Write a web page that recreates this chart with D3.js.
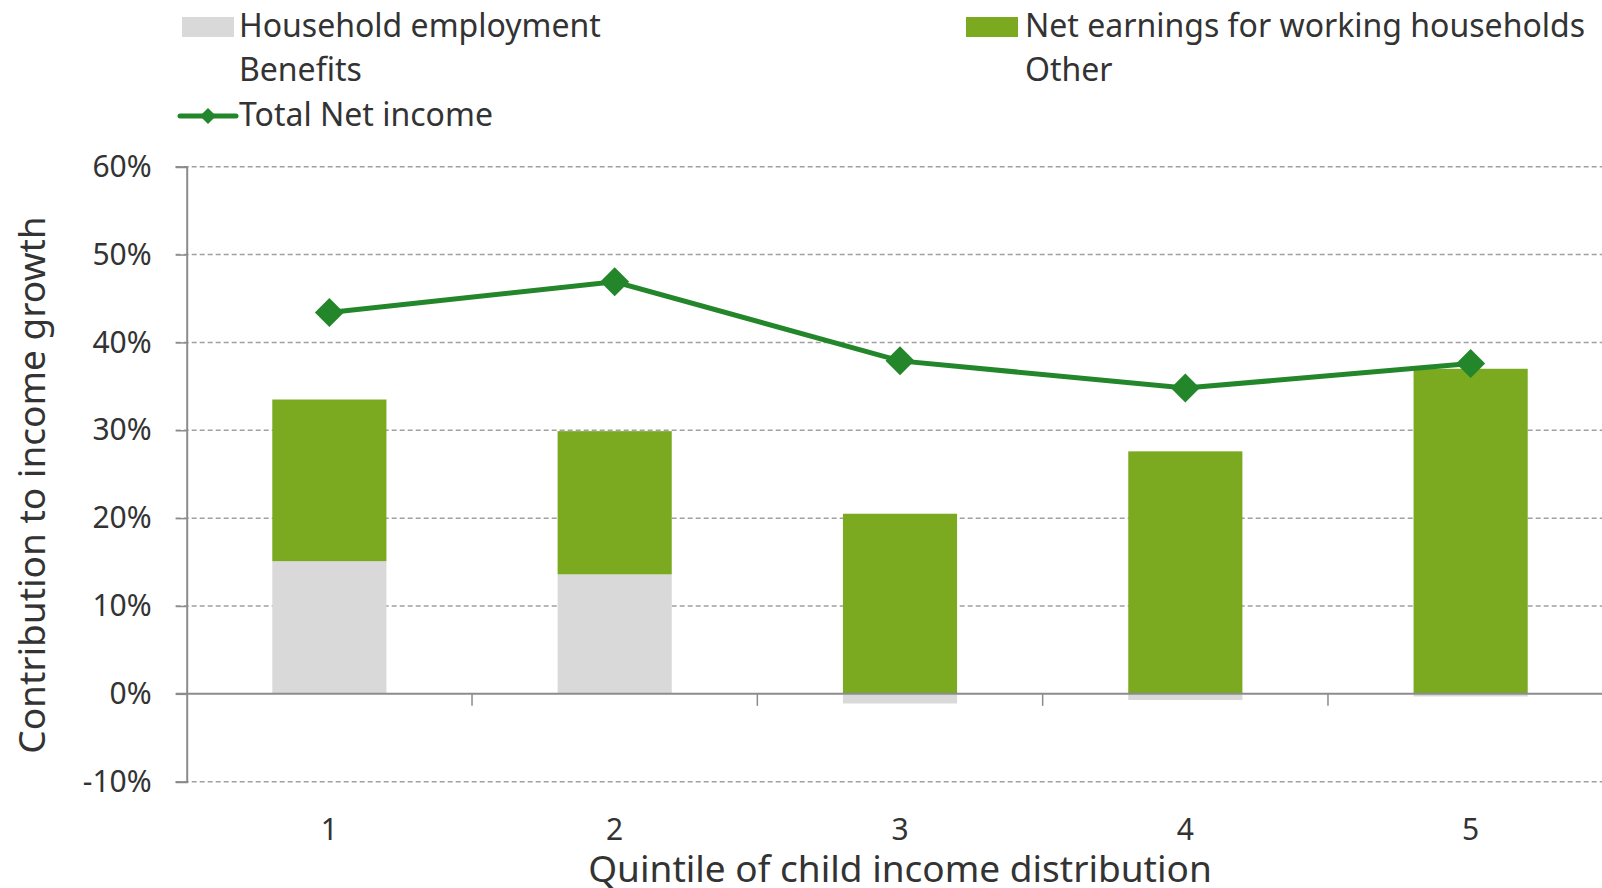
<!DOCTYPE html>
<html>
<head>
<meta charset="utf-8">
<script src="https://cdn.jsdelivr.net/npm/d3@7"></script>
<style>
  html, body { margin: 0; padding: 0; background: #fff; }
  svg text { font-family: "Noto Sans", "Open Sans", sans-serif; fill: #333; }
</style>
</head>
<body>
<svg id="chart" width="1602" height="888"></svg>
<script>
const quintiles = ["1", "2", "3", "4", "5"];
const householdEmployment = [15.1, 13.6, -1.1, -0.7, -0.3];
const netEarnings = [18.4, 16.3, 20.5, 27.6, 37.0];
const totalNetIncome = [43.4, 46.9, 37.9, 34.8, 37.6];
const yTicks = [-10, 0, 10, 20, 30, 40, 50, 60];

(function () {
  const svg = d3.select("#chart");
  const margin = { left: 186.7, right: -11.3, top: 166.7, bottom: 106.3 };
  const width = 1602;
  const height = 888;

  const x = d3
    .scaleBand()
    .domain(quintiles)
    .range([margin.left, width - margin.right])
    .paddingInner(0.6)
    .paddingOuter(0.3);

  const y = d3
    .scaleLinear()
    .domain([-10, 60])
    .range([height - margin.bottom, margin.top]);

  // gridlines
  svg
    .append("g")
    .selectAll(null)
    .data(yTicks.filter((d) => d !== 0))
    .enter()
    .append("line")
    .attr("x1", margin.left - 11)
    .attr("x2", width)
    .attr("y1", (d) => y(d))
    .attr("y2", (d) => y(d))
    .attr("stroke", "#a0a0a0")
    .attr("stroke-width", 1.5)
    .attr("stroke-dasharray", "5,3");

  // stacked bars
  const rows = quintiles.map((q, i) => ({
    q: q,
    household: householdEmployment[i],
    earnings: netEarnings[i],
  }));
  const stack = d3
    .stack()
    .keys(["household", "earnings"])
    .offset(d3.stackOffsetDiverging);
  const colors = { household: "#d9d9d9", earnings: "#7ba91f" };

  svg
    .append("g")
    .selectAll(null)
    .data(stack(rows))
    .enter()
    .append("g")
    .attr("fill", (s) => colors[s.key])
    .selectAll("rect")
    .data((s) => s)
    .enter()
    .append("rect")
    .attr("x", (d) => x(d.data.q))
    .attr("width", x.bandwidth())
    .attr("y", (d) => y(Math.max(d[0], d[1])))
    .attr("height", (d) => Math.abs(y(d[0]) - y(d[1])));

  // y axis
  const yAxis = svg
    .append("g")
    .attr("transform", `translate(${margin.left},0)`)
    .call(
      d3
        .axisLeft(y)
        .tickValues(yTicks)
        .tickFormat((d) => d + "%")
        .tickSize(11)
        .tickPadding(24)
    );
  yAxis.select(".domain").attr("stroke", "#8c8c8c").attr("stroke-width", 2);
  yAxis.selectAll(".tick line").attr("stroke", "#8c8c8c").attr("stroke-width", 1.5);
  yAxis
    .selectAll(".tick text")
    .style("font-size", "30px")
    .attr("fill", "#333");

  // x axis on zero line
  const zeroY = y(0);
  svg
    .append("line")
    .attr("x1", margin.left - 11)
    .attr("x2", width)
    .attr("y1", zeroY)
    .attr("y2", zeroY)
    .attr("stroke", "#8c8c8c")
    .attr("stroke-width", 2);

  const step = x.step();
  const bounds = quintiles.slice(1).map((q) => x(q) - (step * x.paddingInner()) / 2);
  svg
    .append("g")
    .selectAll(null)
    .data(bounds)
    .enter()
    .append("line")
    .attr("x1", (d) => d)
    .attr("x2", (d) => d)
    .attr("y1", zeroY)
    .attr("y2", zeroY + 12)
    .attr("stroke", "#8c8c8c")
    .attr("stroke-width", 1.5);

  svg
    .append("g")
    .selectAll(null)
    .data(quintiles)
    .enter()
    .append("text")
    .attr("x", (d) => x(d) + x.bandwidth() / 2)
    .attr("y", 840)
    .attr("text-anchor", "middle")
    .style("font-size", "30px")
    .text((d) => d);

  // total net income line
  const line = d3
    .line()
    .x((d, i) => x(quintiles[i]) + x.bandwidth() / 2)
    .y((d) => y(d));
  svg
    .append("path")
    .datum(totalNetIncome)
    .attr("d", line)
    .attr("fill", "none")
    .attr("stroke", "#23862a")
    .attr("stroke-width", 5);

  const diamond = d3.symbol().type(d3.symbolSquare).size(420);
  svg
    .append("g")
    .selectAll(null)
    .data(totalNetIncome)
    .enter()
    .append("path")
    .attr("d", diamond)
    .attr(
      "transform",
      (d, i) => `translate(${x(quintiles[i]) + x.bandwidth() / 2},${y(d)}) rotate(45)`
    )
    .attr("fill", "#23862a");

  // axis titles
  svg
    .append("text")
    .attr("x", (margin.left + width - margin.right) / 2)
    .attr("y", 882)
    .attr("text-anchor", "middle")
    .style("font-size", "37px")
    .text("Quintile of child income distribution");

  svg
    .append("text")
    .attr("transform", `translate(45,485) rotate(-90)`)
    .attr("text-anchor", "middle")
    .style("font-size", "37px")
    .text("Contribution to income growth");

  // legend
  const legend = svg.append("g");
  legend
    .append("rect")
    .attr("x", 182)
    .attr("y", 17)
    .attr("width", 52)
    .attr("height", 20)
    .attr("fill", colors.household);
  legend
    .append("rect")
    .attr("x", 966)
    .attr("y", 17)
    .attr("width", 52)
    .attr("height", 20)
    .attr("fill", colors.earnings);
  legend
    .append("line")
    .attr("x1", 180)
    .attr("x2", 236)
    .attr("y1", 116)
    .attr("y2", 116)
    .attr("stroke", "#23862a")
    .attr("stroke-width", 5)
    .attr("stroke-linecap", "round");
  legend
    .append("path")
    .attr("d", d3.symbol().type(d3.symbolSquare).size(130))
    .attr("transform", "translate(208,116) rotate(45)")
    .attr("fill", "#23862a");

  const legendLabels = [
    ["Household employment", 239, 37],
    ["Benefits", 239, 81],
    ["Total Net income", 239, 126],
    ["Net earnings for working households", 1025, 37],
    ["Other", 1025, 81],
  ];
  legend
    .selectAll(null)
    .data(legendLabels)
    .enter()
    .append("text")
    .attr("x", (d) => d[1])
    .attr("y", (d) => d[2])
    .style("font-size", "32px")
    .text((d) => d[0]);
})();
</script>
</body>
</html>
